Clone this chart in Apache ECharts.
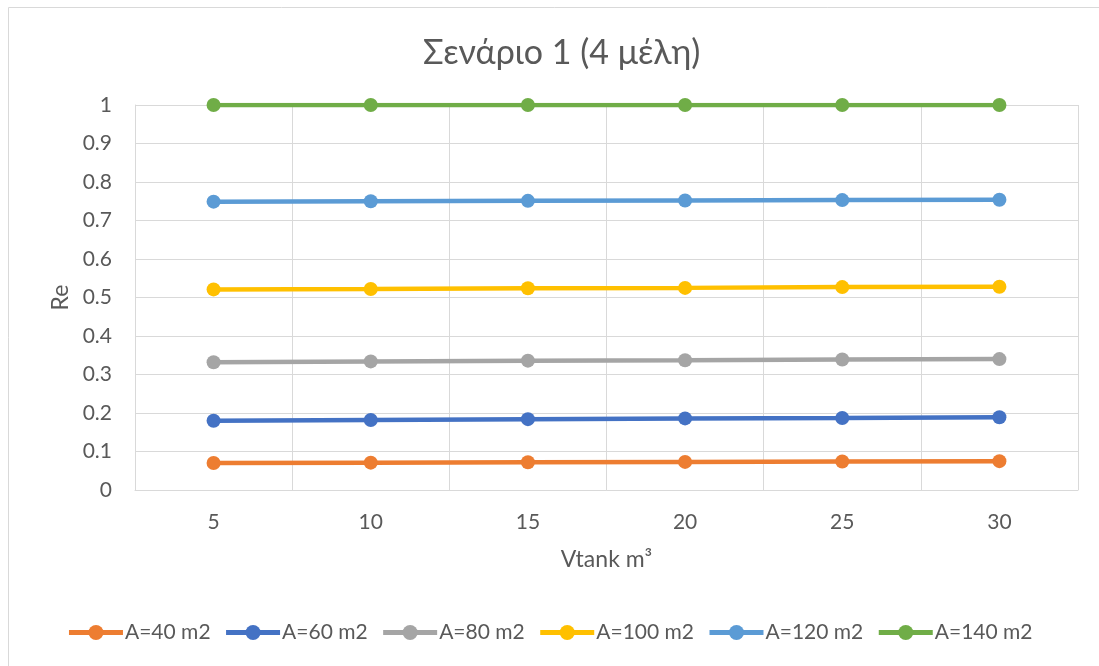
<!DOCTYPE html>
<html><head><meta charset="utf-8">
<script src="https://cdn.jsdelivr.net/npm/echarts@6/dist/echarts.min.js"></script>
<style>html,body{margin:0;padding:0;background:#fff}#c{width:1099px;height:666px}</style>
</head><body><div id="c"></div>
<script>
const categories = ['5','10','15','20','25','30'];
const seriesNames = ['A=40 m2','A=60 m2','A=80 m2','A=100 m2','A=120 m2','A=140 m2'];
const a40  = [0.070,0.071,0.072,0.073,0.074,0.075];
const a60  = [0.180,0.182,0.184,0.186,0.187,0.189];
const a80  = [0.332,0.334,0.336,0.337,0.339,0.340];
const a100 = [0.521,0.522,0.524,0.525,0.527,0.528];
const a120 = [0.749,0.750,0.751,0.752,0.753,0.754];
const a140 = [1,1,1,1,1,1];
const colors = ['#ED7D31','#4472C4','#A5A5A5','#FFC000','#5B9BD5','#70AD47'];
const allData = [a40,a60,a80,a100,a120,a140];
const FONT = 'Lato, "Open Sans", sans-serif';
const chart = echarts.init(document.getElementById('c'));
chart.setOption({
  animation:false,
  color: colors,
  graphic:[{type:'rect',shape:{x:8.5,y:7.5,width:1200,height:800},style:{fill:'none',stroke:'#d9d9d9',lineWidth:1},silent:true,z:-1}],
  title:{text:'Σενάριο 1 (4 μέλη)',left:418,top:31,textStyle:{fontFamily:FONT,fontSize:34,fontWeight:'normal',color:'#595959'}},
  grid:{left:135,right:21,top:105,bottom:176,containLabel:false},
  legend:{bottom:18,left:'center',itemWidth:54,itemHeight:19,itemGap:13,
    lineStyle:{width:5},
    data:seriesNames,textStyle:{fontFamily:FONT,fontSize:21,color:'#595959',padding:[0,0,0,-3]}},
  xAxis:{type:'category',data:categories,boundaryGap:true,
    name:'Vtank m³',nameLocation:'middle',nameGap:58,
    nameTextStyle:{fontFamily:FONT,fontSize:23,color:'#595959'},
    axisLine:{lineStyle:{color:'#d9d9d9',width:1}},axisTick:{show:false},
    axisLabel:{fontFamily:FONT,fontSize:21,color:'#595959',margin:22},
    splitLine:{show:true,lineStyle:{color:'#d9d9d9',width:1}}},
  yAxis:{type:'value',min:0,max:1,interval:0.1,
    name:'Re',nameLocation:'middle',nameGap:63,nameRotate:90,
    nameTextStyle:{fontFamily:FONT,fontSize:23,color:'#595959'},
    axisLine:{show:true,lineStyle:{color:'#d9d9d9'}},axisTick:{show:false},
    axisLabel:{fontFamily:FONT,fontSize:21,color:'#595959',margin:23,formatter:v=>String(Math.round(v*10)/10)},
    splitLine:{lineStyle:{color:'#d9d9d9',width:1}}},
  series: allData.map((d,i)=>({name:seriesNames[i],type:'line',data:d,symbol:'circle',symbolSize:14,
    lineStyle:{width:4.5,color:colors[i]},itemStyle:{color:colors[i]}}))
});
</script></body></html>
